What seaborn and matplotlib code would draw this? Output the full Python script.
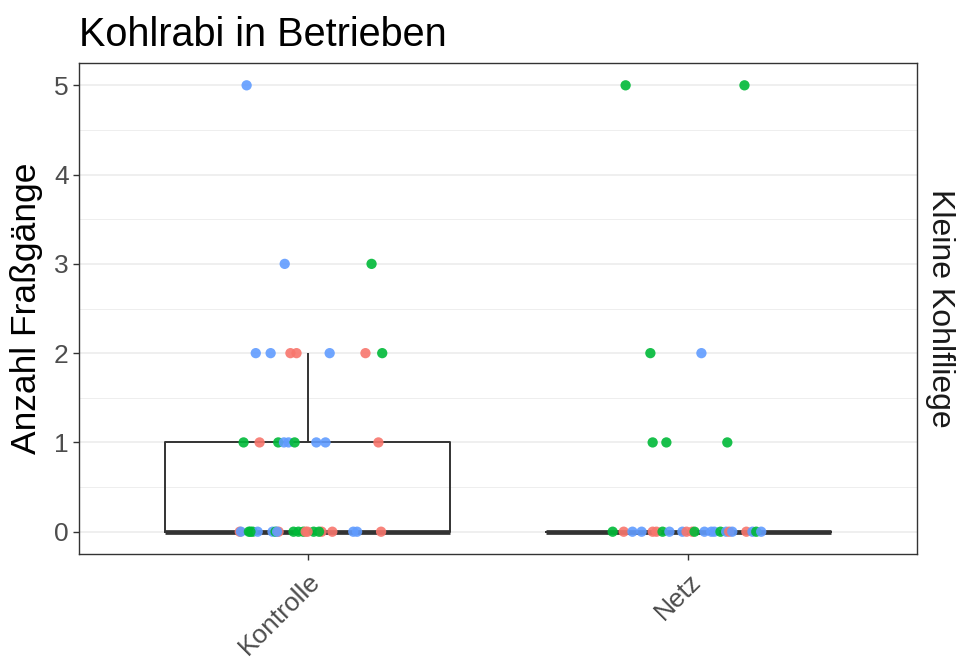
import numpy as np
import pandas as pd
import seaborn as sns
import matplotlib.pyplot as plt
from matplotlib.ticker import MultipleLocator

# data (jitter offsets estimated per point)
groups = ["Kontrolle", "Netz"]
betrieb_colors = {"A": "#F8766D", "B": "#00BA38", "C": "#619CFF"}

kontrolle_values = [5, 3, 3,
                    2, 2, 2, 2, 2, 2, 2,
                    1, 1, 1, 1, 1, 1, 1, 1, 1,
                    0, 0, 0, 0, 0, 0, 0, 0, 0, 0, 0, 0, 0, 0, 0, 0, 0, 0, 0, 0, 0, 0]
kontrolle_betrieb = ["C", "C", "B",
                     "C", "C", "A", "A", "C", "A", "B",
                     "B", "A", "B", "C", "C", "B", "C", "C", "A",
                     "A", "C", "B", "B", "C", "C", "B", "A", "B", "B", "B", "A", "B",
                     "A", "A", "C", "C", "A", "B", "C", "A", "B"]
kontrolle_jitter = [-0.16, -0.06, 0.168,
                    -0.136, -0.097, -0.045, -0.029, 0.058, 0.152, 0.196,
                    -0.168, -0.126, -0.077, -0.062, -0.05, -0.034, 0.023, 0.047, 0.186,
                    -0.178, -0.175, -0.154, -0.144, -0.131, -0.092, -0.084, -0.076, -0.037,
                    -0.024, -0.011, -0.005, 0.016, 0.037, 0.065, 0.12, 0.13, 0.193,
                    -0.15, -0.08, 0.0, 0.03]

netz_values = [5, 5, 2, 2, 1, 1, 1,
               0, 0, 0, 0, 0, 0, 0, 0, 0, 0, 0, 0, 0, 0, 0, 0, 0, 0, 0, 0, 0, 0, 0]
netz_betrieb = ["B", "B", "B", "C", "B", "B", "B",
                "B", "A", "C", "C", "A", "A", "B", "C", "C", "A", "A", "B", "C",
                "C", "C", "B", "C", "A", "C", "A", "C", "B", "C"]
netz_jitter = [-0.165, 0.147, -0.1, 0.034, -0.094, -0.058, 0.102,
               -0.199, -0.17, -0.147, -0.123, -0.094, -0.084, -0.068, -0.05,
               -0.016, -0.005, 0.01, 0.016, 0.042, 0.06, 0.068, 0.084, 0.099,
               0.107, 0.115, 0.152, 0.168, 0.178, 0.191]

df = pd.DataFrame({
    "Behandlung": [groups[0]] * len(kontrolle_values) + [groups[1]] * len(netz_values),
    "Fraßgänge": kontrolle_values + netz_values,
    "Betrieb": kontrolle_betrieb + netz_betrieb,
    "jitter": kontrolle_jitter + netz_jitter,
})
df["xpos"] = df["Behandlung"].map({g: i for i, g in enumerate(groups)}) + df["jitter"]

sns.set_theme(style="white")
plt.rcParams["font.family"] = ["Liberation Sans", "DejaVu Sans"]

fig = plt.figure(figsize=(9.58, 6.59), dpi=100)
ax = fig.add_axes([0.0825, 0.1593, 0.8747, 0.7451])

ax.yaxis.set_minor_locator(MultipleLocator(0.5))
ax.grid(True, which="major", color="#EBEBEB", linewidth=1.1)
ax.grid(True, which="minor", axis="y", color="#EBEBEB", linewidth=0.6)
ax.set_axisbelow(True)

sns.boxplot(data=df, x="Behandlung", y="Fraßgänge", order=groups, width=0.75,
            fill=False, showfliers=False, showcaps=False, color="#333333", whis=1.5,
            linewidth=1.4, medianprops={"linewidth": 3.4, "color": "#333333"},
            ax=ax, zorder=2)

sns.scatterplot(data=df, x="xpos", y="Fraßgänge", hue="Betrieb",
                palette=betrieb_colors, s=55, alpha=0.9, linewidth=0,
                legend=False, ax=ax, zorder=3)

ax.set_xlim(-0.6, 1.6)
ax.set_ylim(-0.25, 5.25)
ax.set_xticks(range(len(groups)))
ax.set_xticklabels(groups, rotation=45, ha="right", va="top",
                   rotation_mode="anchor", fontsize=19, color="#4D4D4D")
ax.set_yticks(range(6))
ax.tick_params(axis="y", labelsize=19, labelcolor="#4D4D4D")
ax.tick_params(axis="x", pad=7)
ax.tick_params(which="major", length=4, width=1, color="#333333", left=True, bottom=True)
ax.tick_params(which="minor", length=0)
ax.set_xlabel("")
ax.set_ylabel("Anzahl Fraßgänge", fontsize=25.5, color="black", labelpad=8)
ax.set_title("Kohlrabi in Betrieben", fontsize=28.5, loc="left", pad=12, color="black")

for s in ax.spines.values():
    s.set_color("#333333")
    s.set_linewidth(1)

ax.text(1.027, 0.5, "Kleine Kohlfliege", rotation=-90, transform=ax.transAxes,
        ha="center", va="center", fontsize=23, color="#1A1A1A")

fig.savefig("out.png", dpi=100)
